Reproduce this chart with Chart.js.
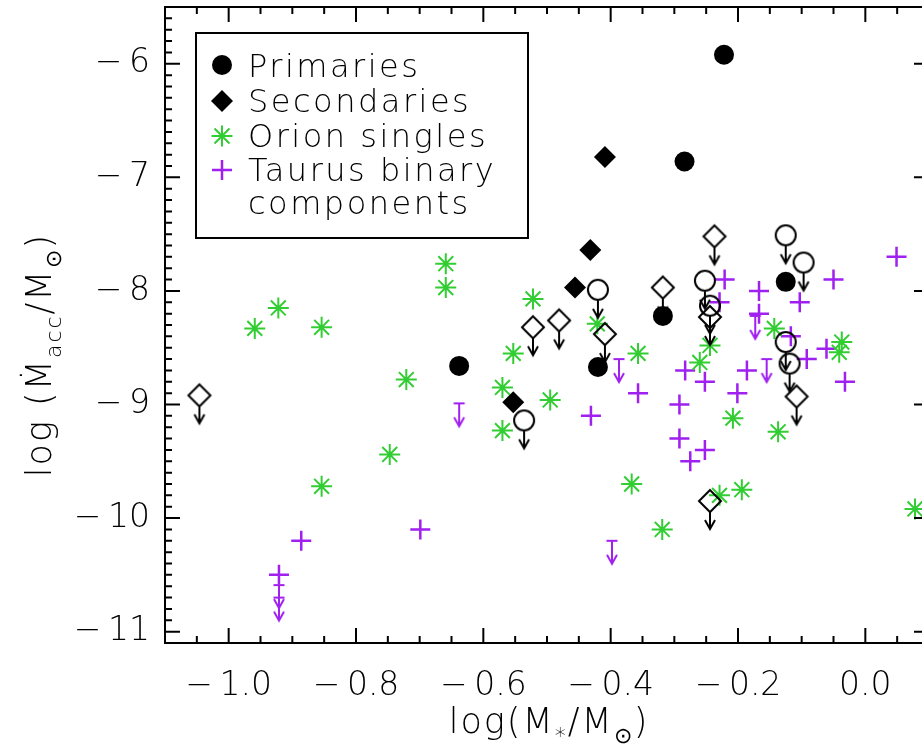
<!DOCTYPE html>
<html lang="en">
<head>
<meta charset="UTF-8">
<title>log Mdot vs log M</title>
<script src="https://cdn.jsdelivr.net/npm/chart.js@4.4.0/dist/chart.umd.min.js"></script>
<style>
  html, body { margin: 0; padding: 0; background: #fff; overflow: hidden; }
</style>
</head>
<body>
<canvas id="chart-area" width="940" height="755"></canvas>
<script>
// values: [log M*, log Mdot]
var primaries = [[-0.222, -5.92], [-0.284, -6.86], [-0.318, -8.22], [-0.420, -8.67], [-0.125, -7.92], [-0.638, -8.66]];
var primaryLimits = [[-0.125, -7.51], [-0.420, -7.99], [-0.252, -7.91], [-0.244, -8.13], [-0.097, -7.75],
    [-0.125, -8.45], [-0.119, -8.64], [-0.536, -9.14]];
var secondaries = [[-0.409, -6.82], [-0.432, -7.64], [-0.456, -7.97], [-0.553, -8.98]];
var secondaryLimits = [[-0.237, -7.52], [-0.318, -7.97], [-0.522, -8.32], [-0.481, -8.26], [-0.409, -8.38],
    [-0.244, -8.23], [-0.108, -8.93], [-1.046, -8.92], [-0.244, -9.85]];
var orionSingles = [[-0.959, -8.33], [-0.922, -8.15], [-0.854, -8.32], [-0.659, -7.76], [-0.659, -7.97],
    [-0.721, -8.78], [-0.553, -8.55], [-0.570, -8.85], [-0.570, -9.23], [-0.522, -8.07], [-0.747, -9.44],
    [-0.854, -9.72], [-0.421, -8.29], [-0.357, -8.55], [-0.495, -8.96], [-0.260, -8.63], [-0.244, -8.48],
    [-0.143, -8.33], [-0.037, -8.45], [-0.041, -8.54], [-0.208, -9.12], [-0.137, -9.24], [-0.367, -9.70],
    [-0.319, -10.10], [-0.229, -9.80], [-0.194, -9.75], [0.078, -9.92]];
var taurusBinaries = [[0.049, -7.70], [-0.221, -7.90], [-0.229, -8.10], [-0.167, -8.00], [-0.167, -8.20],
    [-0.050, -7.90], [-0.103, -8.10], [-0.117, -8.40], [-0.061, -8.51], [-0.092, -8.60], [-0.032, -8.80],
    [-0.186, -8.70], [-0.201, -8.90], [-0.252, -8.80], [-0.283, -8.70], [-0.292, -9.00], [-0.357, -8.90],
    [-0.431, -9.10], [-0.292, -9.30], [-0.252, -9.40], [-0.275, -9.50], [-0.886, -10.20], [-0.699, -10.10],
    [-0.921, -10.50]];
var taurusLimits = [[-0.638, -8.99], [-0.398, -10.20], [-0.387, -8.60], [-0.155, -8.60], [-0.173, -8.22],
    [-0.921, -10.59], [-0.921, -10.70]];

var xTicks = [-1.0, -0.8, -0.6, -0.4, -0.2, 0.0];
var yTicks = [-11, -10, -9, -8, -7, -6];
var legendLabels = ['Primaries', 'Secondaries', 'Orion singles', 'Taurus binary', 'components'];

var GREEN = 'rgb(50,205,50)';
var PURPLE = 'rgb(160,32,240)';
var FONT = '"DejaVu Sans", sans-serif';

function toPoints(arr) {
    return arr.map(function (p) { return {x: p[0], y: p[1]}; });
}

// upper limit symbols: marker with an arrow pointing down, centred on the value
function limitSprite(kind, color) {
    var c = document.createElement('canvas');
    c.width = 30; c.height = 66;
    var g = c.getContext('2d');
    var cx = 15, cy = 33, top, tip;
    g.strokeStyle = color;
    g.lineWidth = 2;
    g.beginPath();
    if (kind === 'circle') {
        g.arc(cx, cy, 10, 0, 2 * Math.PI);
        top = cy + 10; tip = cy + 28;
    } else if (kind === 'diamond') {
        g.moveTo(cx, cy - 11); g.lineTo(cx + 11, cy); g.lineTo(cx, cy + 11); g.lineTo(cx - 11, cy); g.closePath();
        top = cy + 11; tip = cy + 28;
    } else {
        g.moveTo(cx - 5.5, cy); g.lineTo(cx + 5.5, cy);
        top = cy; tip = cy + 23;
    }
    g.moveTo(cx, top); g.lineTo(cx, tip);
    g.moveTo(cx - 5, tip - 9); g.lineTo(cx, tip); g.lineTo(cx + 5, tip - 9);
    g.stroke();
    return c;
}

function fmtX(v) {
    if (Math.abs(v) < 1e-9) return '0.0';
    return (v < 0 ? '\u2212\u2009' : '') + Math.abs(v).toFixed(1);
}
function fmtY(v) {
    return (v < 0 ? '\u2212\u2009' : '') + Math.abs(v);
}

function drawRich(ctx, parts, x, y, size) {
    var widths = [], total = 0;
    parts.forEach(function (p) {
        ctx.font = '200 ' + (p[1] ? Math.round(size * 0.62) : size) + 'px ' + FONT;
        var w = ctx.measureText(p[0]).width;
        widths.push(w); total += w;
    });
    var cx = x - total / 2;
    parts.forEach(function (p, i) {
        ctx.font = '200 ' + (p[1] ? Math.round(size * 0.62) : size) + 'px ' + FONT;
        ctx.fillText(p[0], cx, y + (p[1] ? size * 0.28 : 0));
        cx += widths[i];
    });
}

// box, inward ticks, axis titles and the legend
var framePlugin = {
    id: 'frame',
    afterDraw: function (chart) {
        var ctx = chart.ctx, a = chart.chartArea;
        var xs = chart.scales.x, ys = chart.scales.y;
        ctx.save();
        ctx.strokeStyle = '#000';
        ctx.lineWidth = 2;
        ctx.strokeRect(a.left, a.top, a.right - a.left, a.bottom - a.top);

        ctx.beginPath();
        for (var i = -22; i <= 2; i++) {
            var v = i * 0.05, px = xs.getPixelForValue(v);
            var len = (i % 4 === 0) ? 15 : 7;
            ctx.moveTo(px, a.bottom); ctx.lineTo(px, a.bottom - len);
            ctx.moveTo(px, a.top); ctx.lineTo(px, a.top + len);
        }
        for (var j = -111; j <= -55; j++) {
            var py = ys.getPixelForValue(j / 10);
            var ylen = (j % 10 === 0) ? 15 : 7;
            ctx.moveTo(a.left, py); ctx.lineTo(a.left + ylen, py);
            ctx.moveTo(a.right, py); ctx.lineTo(a.right - ylen, py);
        }
        ctx.stroke();

        ctx.fillStyle = '#000';
        ctx.textBaseline = 'alphabetic';
        ctx.textAlign = 'left';
        ctx.letterSpacing = '2px';
        drawRich(ctx, [['log(M', 0], ['*', 1], ['/M', 0], ['\u2299', 1], [')', 0]], (a.left + a.right) / 2 + 2, 733, 35);
        ctx.save();
        ctx.translate(51, 355);
        ctx.rotate(-Math.PI / 2);
        drawRich(ctx, [['log (\u1E40', 0], ['acc', 1], ['/M', 0], ['\u2299', 1], [')', 0]], 0, 0, 35);
        ctx.restore();

        // legend
        ctx.lineWidth = 2;
        ctx.strokeRect(196, 33, 332, 205);
        var rows = [77, 112, 147, 181, 214];
        var mx = 222;
        ctx.fillStyle = '#000';
        ctx.beginPath(); ctx.arc(mx, 65, 10, 0, 2 * Math.PI); ctx.fill();
        ctx.beginPath();
        ctx.moveTo(mx, 90); ctx.lineTo(mx + 11, 101); ctx.lineTo(mx, 112); ctx.lineTo(mx - 11, 101); ctx.closePath();
        ctx.fill();
        ctx.strokeStyle = GREEN; ctx.lineWidth = 2;
        ctx.beginPath();
        ctx.moveTo(mx - 10.5, 136); ctx.lineTo(mx + 10.5, 136);
        ctx.moveTo(mx, 125.5); ctx.lineTo(mx, 146.5);
        ctx.moveTo(mx - 7.5, 128.5); ctx.lineTo(mx + 7.5, 143.5);
        ctx.moveTo(mx - 7.5, 143.5); ctx.lineTo(mx + 7.5, 128.5);
        ctx.stroke();
        ctx.strokeStyle = PURPLE; ctx.lineWidth = 2.5;
        ctx.beginPath();
        ctx.moveTo(mx - 10, 170); ctx.lineTo(mx + 10, 170);
        ctx.moveTo(mx, 160); ctx.lineTo(mx, 180);
        ctx.stroke();
        ctx.fillStyle = '#000';
        ctx.font = '200 32px ' + FONT;
        ctx.letterSpacing = '2.5px';
        legendLabels.forEach(function (t, k) { ctx.fillText(t, 248, rows[k]); });
        ctx.restore();
    }
};

var config = {
    type: 'scatter',
    data: {
        datasets: [
            {label: 'Primaries', data: toPoints(primaries), pointStyle: 'circle', pointRadius: 10,
                backgroundColor: '#000', borderColor: '#000', borderWidth: 0},
            {label: 'Primaries (upper limits)', data: toPoints(primaryLimits), pointStyle: limitSprite('circle', '#000'), pointRadius: 10},
            {label: 'Secondaries', data: toPoints(secondaries), pointStyle: 'rectRot', pointRadius: 11,
                backgroundColor: '#000', borderColor: '#000', borderWidth: 0},
            {label: 'Secondaries (upper limits)', data: toPoints(secondaryLimits), pointStyle: limitSprite('diamond', '#000'), pointRadius: 10},
            {label: 'Orion singles', data: toPoints(orionSingles), pointStyle: 'star', pointRadius: 10.5,
                borderColor: GREEN, backgroundColor: GREEN, borderWidth: 2},
            {label: 'Taurus binary components', data: toPoints(taurusBinaries), pointStyle: 'cross', pointRadius: 10,
                borderColor: PURPLE, backgroundColor: PURPLE, borderWidth: 2.5},
            {label: 'Taurus (upper limits)', data: toPoints(taurusLimits), pointStyle: limitSprite('bar', PURPLE), pointRadius: 10}
        ]
    },
    options: {
        responsive: false,
        animation: false,
        events: [],
        layout: {autoPadding: false, padding: {top: 7, right: 11, left: 0, bottom: 0}},
        plugins: {legend: {display: false}, tooltip: {enabled: false}},
        scales: {
            x: {
                type: 'linear', min: -1.1, max: 0.1,
                grid: {display: false, drawTicks: false},
                border: {display: false},
                ticks: {
                    color: '#000', padding: 24, maxRotation: 0, autoSkip: false,
                    font: {family: FONT, size: 33, weight: '200'},
                    callback: fmtX
                },
                afterBuildTicks: function (s) { s.ticks = xTicks.map(function (v) { return {value: v}; }); },
                afterFit: function (s) { s.height = 112; s.paddingLeft = 0; s.paddingRight = 0; }
            },
            y: {
                type: 'linear', min: -11.1, max: -5.5,
                grid: {display: false, drawTicks: false},
                border: {display: false},
                ticks: {
                    color: '#000', padding: 15, autoSkip: false,
                    font: {family: FONT, size: 33, weight: '200'},
                    callback: fmtY
                },
                afterBuildTicks: function (s) { s.ticks = yTicks.map(function (v) { return {value: v}; }); },
                afterFit: function (s) { s.width = 165; s.paddingTop = 0; s.paddingBottom = 0; }
            }
        }
    },
    plugins: [framePlugin]
};

var ctx = document.getElementById('chart-area').getContext('2d');
window.myScatter = new Chart(ctx, config);
</script>
</body>
</html>
